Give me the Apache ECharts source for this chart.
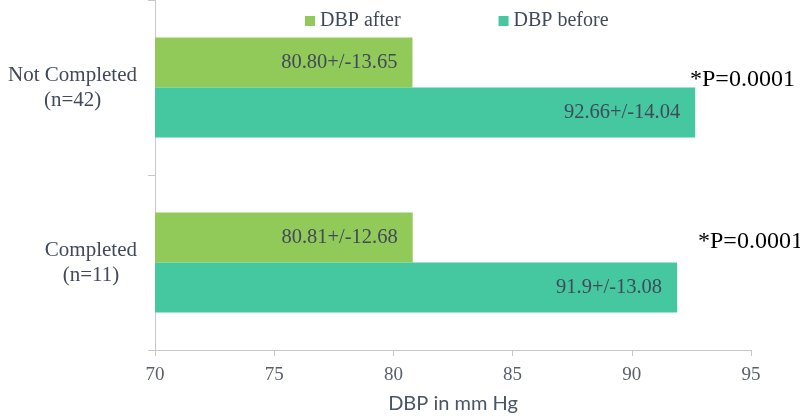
<!DOCTYPE html>
<html>
<head>
<meta charset="utf-8">
<script src="https://cdn.jsdelivr.net/npm/echarts@6/dist/echarts.min.js"></script>
<style>
  html, body { margin: 0; padding: 0; background: #fff; }
  #chart { width: 800px; height: 419px; }
</style>
</head>
<body>
<div id="chart"></div>
<script>
// categories, bottom to top
const groups = ['Completed\n(n=11)', 'Not Completed\n(n=42)'];
const afterMean = [80.81, 80.80];
const beforeMean = [91.9, 92.66];
const afterLabels = ['80.81+/-12.68', '80.80+/-13.65'];
const beforeLabels = ['91.9+/-13.08', '92.66+/-14.04'];
const pValues = ['*P=0.0001', '*P=0.0001'];
const xTicks = { min: 70, max: 95, step: 5 };

const serif = 'Liberation Serif';
const textGray = '#404a5a';

const chart = echarts.init(document.getElementById('chart'));

chart.setOption({
  animation: false,
  color: ['#92ca5a', '#45c8a0'],
  textStyle: { fontFamily: serif },
  legend: {
    top: 6,
    left: 300,
    icon: 'rect',
    itemWidth: 10,
    itemHeight: 10,
    itemGap: 98,
    textStyle: { fontFamily: serif, fontSize: 20, color: textGray }
  },
  grid: { left: 155, right: 49, top: 0, bottom: 69, outerBoundsMode: 'none', containLabel: false },
  xAxis: {
    type: 'value',
    min: xTicks.min,
    max: xTicks.max,
    interval: xTicks.step,
    name: 'DBP in mm Hg',
    nameLocation: 'middle',
    nameGap: 44,
    nameTextStyle: { fontFamily: 'Lato', fontSize: 20, color: '#4a5565' },
    axisLine: { show: true, lineStyle: { color: '#c8c8c8' } },
    axisTick: { show: true, length: 6, lineStyle: { color: '#c8c8c8' } },
    axisLabel: { fontFamily: serif, fontSize: 19, color: '#595f6a', margin: 16 },
    splitLine: { show: false }
  },
  yAxis: {
    type: 'category',
    data: groups,
    axisLine: { show: true, lineStyle: { color: '#c8c8c8' } },
    axisTick: { show: true, length: 7, lineStyle: { color: '#c8c8c8' } },
    axisLabel: {
      margin: 18,
      align: 'right',
      formatter: function (v) {
        return v.split('\n').map(s => '{c|' + s + '}').join('\n');
      },
      rich: {
        c: { fontFamily: serif, fontSize: 21, color: textGray, align: 'center', lineHeight: 25 }
      }
    }
  },
  series: [
    {
      name: 'DBP after',
      type: 'bar',
      barWidth: 50,
      barGap: '0%',
      data: afterMean,
      label: {
        show: true,
        position: 'insideRight',
        distance: 15,
        fontFamily: serif,
        fontSize: 20.5,
        color: textGray,
        formatter: p => afterLabels[p.dataIndex]
      }
    },
    {
      name: 'DBP before',
      type: 'bar',
      barWidth: 50,
      barGap: '0%',
      data: beforeMean,
      label: {
        show: true,
        position: 'insideRight',
        distance: 15,
        fontFamily: serif,
        fontSize: 20.5,
        color: textGray,
        formatter: p => beforeLabels[p.dataIndex]
      }
    }
  ],
  graphic: [
    {
      type: 'text', left: 690, top: 68,
      style: { text: pValues[1], fontFamily: serif, fontSize: 24, fill: '#000' }
    },
    {
      type: 'text', left: 698, top: 230,
      style: { text: pValues[0], fontFamily: serif, fontSize: 24, fill: '#000' }
    }
  ]
});
</script>
</body>
</html>
